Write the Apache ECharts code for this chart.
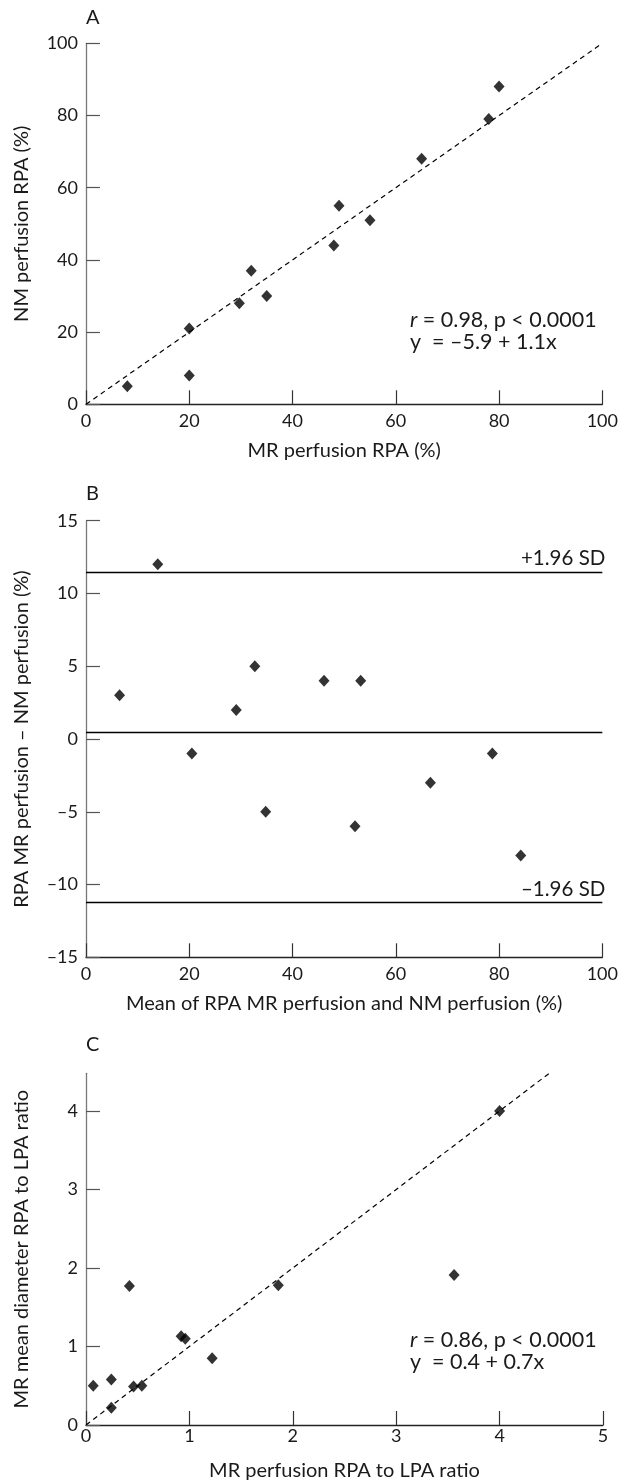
<!DOCTYPE html>
<html>
<head>
<meta charset="utf-8">
<script src="https://cdn.jsdelivr.net/npm/echarts@6/dist/echarts.min.js"></script>
<style>
html,body{margin:0;padding:0;background:#fff;}
#chart{width:621px;height:1483px;}
</style>
</head>
<body>
<div id="chart"></div>
<script>
// Panel A: MR perfusion RPA (%) vs NM perfusion RPA (%)
const aMR = [8, 20, 20, 29.7, 32, 35, 48, 49, 55, 65, 78, 80];
const aNM = [5, 21, 8, 28, 37, 30, 44, 55, 51, 68, 79, 88];
const aLine = [[0, 0], [100, 100]];
const aTicksX = [0, 20, 40, 60, 80, 100];
const aTicksY = [0, 20, 40, 60, 80, 100];

// Panel B: Bland-Altman
const bMean = [6.5, 13.9, 20.5, 29.1, 32.7, 34.8, 46.1, 53.2, 52.1, 66.7, 78.7, 84.2];
const bDiff = [3, 12, -1, 2, 5, -5, 4, 4, -6, -3, -1, -8];
const bLimitNames = ['+1.96 SD', '', '\u20131.96 SD'];
const bLimitValues = [11.47, 0.44, -11.23];
const bTicksY = [-15, -10, -5, 0, 5, 10, 15];

// Panel C: ratios
const cPerf = [0.07, 0.245, 0.245, 0.42, 0.46, 0.54, 0.92, 0.96, 1.22, 1.86, 3.56, 4.0];
const cDiam = [0.5, 0.22, 0.58, 1.77, 0.49, 0.5, 1.13, 1.1, 0.85, 1.78, 1.91, 4.0];
const cLine = [[0, 0], [4.48, 4.48]];
const cTicksY = [0, 1, 2, 3, 4];

const FONT = 'Lato';
const TXT = '#1a1a1a';

function pairs(xs, ys) { return xs.map((x, i) => [x, ys[i]]); }
function dashFmt(v) { return v < 0 ? '\u2013' + Math.abs(v) : String(v); }

function xAxisCfg(gi, min, max, interval, name, margin) {
  return {
    gridIndex: gi, type: 'value', min, max, interval,
    name, nameLocation: 'middle', nameGap: 36,
    nameTextStyle: {fontFamily: FONT, fontSize: 20, color: TXT},
    axisLine: {onZero: false, lineStyle: {color: '#222', width: 1.3}},
    axisTick: {inside: true, length: 14, lineStyle: {color: '#333', width: 1.2}},
    axisLabel: {margin: margin, fontFamily: FONT, fontSize: 18, color: TXT},
    splitLine: {show: false}
  };
}
function yAxisCfg(gi, min, max, interval, name, extra) {
  const cfg = {
    gridIndex: gi, type: 'value', min, max, interval,
    name, nameLocation: 'middle', nameGap: 54,
    nameTextStyle: {fontFamily: FONT, fontSize: 20, color: TXT},
    axisLine: {onZero: false, lineStyle: {color: '#777', width: 1.3}},
    axisTick: {inside: true, length: 14, lineStyle: {color: '#555', width: 1.2}},
    axisLabel: {margin: 8, fontFamily: FONT, fontSize: 18, color: TXT, formatter: dashFmt},
    splitLine: {show: false}
  };
  if (extra) {
    cfg.axisLabel.customValues = extra;
    cfg.axisTick.customValues = extra;
  }
  return cfg;
}

const diamond = {symbol: 'diamond', symbolSize: [11, 12], itemStyle: {color: '#000'}};
const annoStyle = {fontFamily: FONT, fontSize: 21.5, fontWeight: 'normal', color: TXT, lineHeight: 22,
  rich: {i: {fontStyle: 'italic', fontFamily: FONT, fontSize: 21.5, color: TXT}}};

const option = {
  backgroundColor: '#fff',
  animation: false,
  grid: [
    {left: 86, top: 43.3, width: 517, height: 361},
    {left: 86, top: 520.7, width: 517, height: 436.6},
    {left: 86, top: 1073.3, width: 517, height: 351.7}
  ],
  xAxis: [
    xAxisCfg(0, 0, 100, 20, 'MR perfusion RPA (%)', 8),
    xAxisCfg(1, 0, 100, 20, 'Mean of RPA MR perfusion and NM perfusion (%)', 8),
    xAxisCfg(2, 0, 5, 1, 'MR perfusion RPA to LPA ratio', 2)
  ],
  yAxis: [
    yAxisCfg(0, 0, 100, 20, 'NM perfusion RPA (%)'),
    yAxisCfg(1, -15, 15, 5, 'RPA MR perfusion \u2013 NM perfusion (%)'),
    yAxisCfg(2, 0, 4.48, 1, 'MR mean diameter RPA to LPA ratio', cTicksY)
  ],
  title: [
    {text: 'A', left: 86, top: 8, textStyle: {fontFamily: FONT, fontSize: 20, fontWeight: 'normal', color: TXT}, padding: 0},
    {text: 'B', left: 86, top: 484, textStyle: {fontFamily: FONT, fontSize: 20, fontWeight: 'normal', color: TXT}, padding: 0},
    {text: 'C', left: 86, top: 1035, textStyle: {fontFamily: FONT, fontSize: 20, fontWeight: 'normal', color: TXT}, padding: 0},
    {text: '{i|r} = 0.98, p < 0.0001\ny  = \u20135.9 + 1.1x', left: 410, top: 309, padding: 0, textStyle: annoStyle},
    {text: '{i|r} = 0.86, p < 0.0001\ny  = 0.4 + 0.7x', left: 410, top: 1329, padding: 0, textStyle: annoStyle}
  ],
  series: [
    {type: 'line', xAxisIndex: 0, yAxisIndex: 0, data: aLine, symbol: 'none',
      lineStyle: {color: '#000', width: 1.2, type: [5, 4]}, z: 1},
    Object.assign({type: 'scatter', xAxisIndex: 0, yAxisIndex: 0, data: pairs(aMR, aNM), z: 3}, diamond),
    Object.assign({type: 'scatter', xAxisIndex: 1, yAxisIndex: 1, data: pairs(bMean, bDiff), z: 3,
      markLine: {
        silent: true, symbol: 'none',
        lineStyle: {color: '#000', width: 1.4, type: 'solid'},
        data: bLimitValues.map((v, i) => ({
          yAxis: v,
          label: {show: bLimitNames[i] !== '', formatter: bLimitNames[i], position: 'insideEndTop',
            distance: [-3, 3], fontFamily: FONT, fontSize: 20.5, color: TXT}
        }))
      }}, diamond),
    {type: 'line', xAxisIndex: 2, yAxisIndex: 2, data: cLine, symbol: 'none',
      lineStyle: {color: '#000', width: 1.2, type: [5, 4]}, z: 1},
    Object.assign({type: 'scatter', xAxisIndex: 2, yAxisIndex: 2, data: pairs(cPerf, cDiam), z: 3}, diamond)
  ]
};

const chart = echarts.init(document.getElementById('chart'), null, {renderer: 'canvas'});
chart.setOption(option);
</script>
</body>
</html>
